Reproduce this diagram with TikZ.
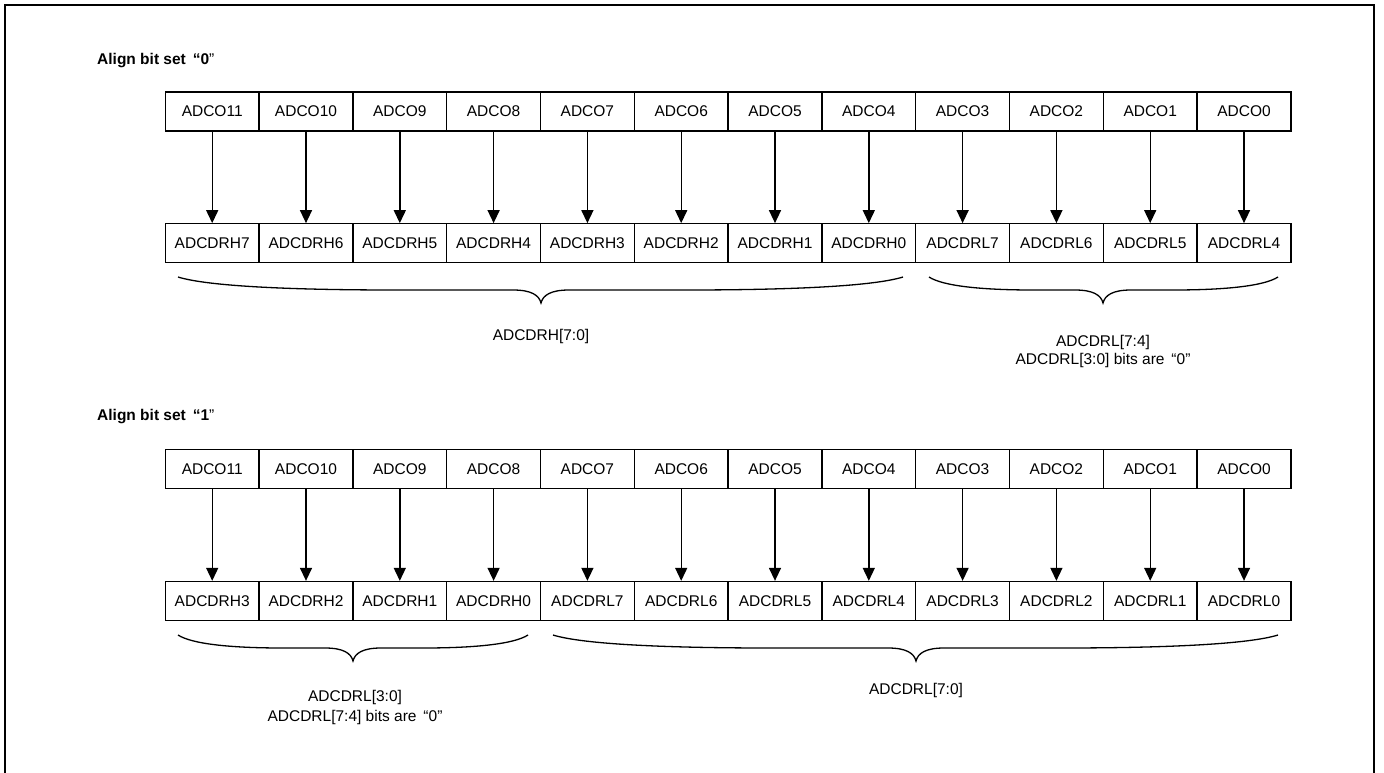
\documentclass[tikz,border=0pt]{standalone}
\usepackage{fontspec}
\setmainfont{Liberation Sans}
\usetikzlibrary{arrows.meta}
\newcommand{\curlybr}[4]{% x1, tip, x2, ytop
  \pgfmathsetmacro{\la}{#2-#1}\pgfmathsetmacro{\ra}{#3-#2}
  \draw[bracestyle] (#1,#4) .. controls ({#1+0.08*\la},{#4+9}) and ({#1+0.3*\la},{#4+13}) .. ({#1+0.6*\la},{#4+13})
    -- ({#2-28},{#4+13}) .. controls ({#2-10},{#4+13}) and ({#2-2},{#4+18}) .. (#2,{#4+26})
    .. controls ({#2+2},{#4+18}) and ({#2+10},{#4+13}) .. ({#2+28},{#4+13})
    -- ({#3-0.6*\ra},{#4+13}) .. controls ({#3-0.3*\ra},{#4+13}) and ({#3-0.08*\ra},{#4+9}) .. (#3,#4);}
\begin{document}
\begin{tikzpicture}[x=1pt,y=-1pt,
  cell/.style={draw, line width=1.3pt, minimum width=93.8pt, minimum height=39pt, inner sep=0pt, font=\fontsize{15.5}{18}\selectfont},
  bitarrow/.style={line width=1.4pt, -{Triangle[length=13pt,width=12pt]}},
  bracestyle/.style={line width=1.3pt},
  lbl/.style={font=\fontsize{15.5}{18}\selectfont, align=center, inner sep=0pt, anchor=base},
  title/.style={font=\bfseries\fontsize{15.5}{18}\selectfont, anchor=base west, inner sep=0pt},
  frame/.style={line width=1.3pt}]
\useasboundingbox (0,0) rectangle (1384,773);
\draw[frame] (5,773) -- (5,5) -- (1374,5) -- (1374,773);

% ---------- Align bit set 0 ----------
\node[title] (t0) at (97,65) {Align bit set \,“0\textmd{”}};
\foreach \t [count=\i from 0] in {ADCO11,ADCO10,ADCO9,ADCO8,ADCO7,ADCO6,ADCO5,ADCO4,ADCO3,ADCO2,ADCO1,ADCO0}
  \node[cell] (a\i) at ({212.2+93.8*\i},111.5) {\t};
\foreach \t [count=\i from 0] in {ADCDRH7,ADCDRH6,ADCDRH5,ADCDRH4,ADCDRH3,ADCDRH2,ADCDRH1,ADCDRH0,ADCDRL7,ADCDRL6,ADCDRL5,ADCDRL4}
  \node[cell] (b\i) at ({212.2+93.8*\i},243.3) {\t};
\foreach \i in {0,...,11}
  \draw[bitarrow] (a\i) -- (b\i);
\curlybr{178}{541}{903}{277}
\curlybr{929}{1103}{1278}{277}
\node[lbl] (l1) at (541,340) {ADCDRH[7:0]};
\node[lbl] (l2a) at (1103,346) {ADCDRL[7:4]};
\node[lbl] (l2b) at (1103,364) {ADCDRL[3:0] bits are \,“0”};

% ---------- Align bit set 1 ----------
\node[title] (t1) at (97,420.5) {Align bit set \,“1\textmd{”}};
\foreach \t [count=\i from 0] in {ADCO11,ADCO10,ADCO9,ADCO8,ADCO7,ADCO6,ADCO5,ADCO4,ADCO3,ADCO2,ADCO1,ADCO0}
  \node[cell] (c\i) at ({212.2+93.8*\i},469) {\t};
\foreach \t [count=\i from 0] in {ADCDRH3,ADCDRH2,ADCDRH1,ADCDRH0,ADCDRL7,ADCDRL6,ADCDRL5,ADCDRL4,ADCDRL3,ADCDRL2,ADCDRL1,ADCDRL0}
  \node[cell] (d\i) at ({212.2+93.8*\i},601) {\t};
\foreach \i in {0,...,11}
  \draw[bitarrow] (c\i) -- (d\i);
\curlybr{178}{353}{528}{635}
\curlybr{553}{916}{1278}{635}
\node[lbl] (l3a) at (355,701.5) {ADCDRL[3:0]};
\node[lbl] (l3b) at (355,721.5) {ADCDRL[7:4] bits are \,“0”};
\node[lbl] (l4) at (916,694) {ADCDRL[7:0]};
\end{tikzpicture}
\end{document}
